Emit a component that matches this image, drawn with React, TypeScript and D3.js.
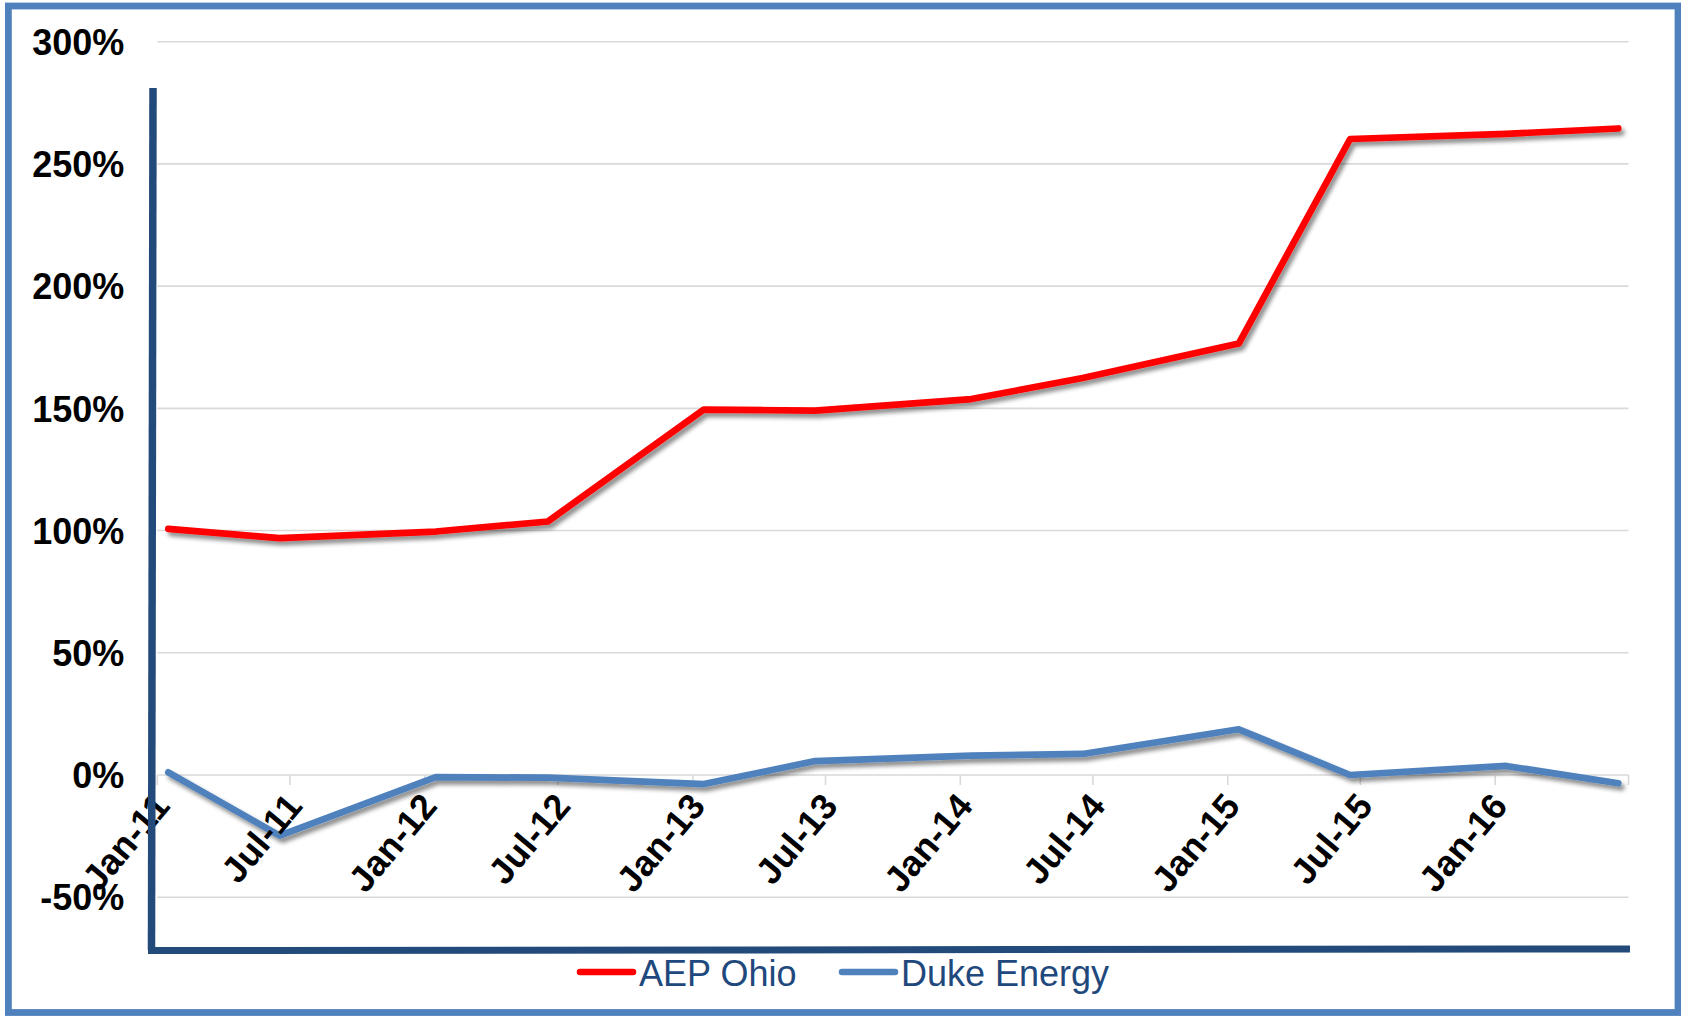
import React from "react";
import * as d3 from "d3";

// ---- data ----
const dates = [
  "2011-01-16", "2011-06-17", "2012-01-16", "2012-06-17",
  "2013-01-16", "2013-06-17", "2014-01-16", "2014-06-17",
  "2015-01-16", "2015-06-17", "2016-01-16", "2016-06-17",
];
const aepOhio = [100.7, 96.9, 99.6, 103.7, 149.5, 149.1, 153.8, 162.4, 176.5, 260.2, 262.3, 264.5];
const dukeEnergy = [1.1, -24.8, -0.9, -1.1, -3.7, 5.7, 7.9, 8.6, 18.7, 0, 3.7, -3.4];
const seriesNames = ["AEP Ohio", "Duke Energy"];
const seriesColors = ["#FF0000", "#4F81BD"];
const xTickDates = [
  "2011-01-01", "2011-07-01", "2012-01-01", "2012-07-01", "2013-01-01", "2013-07-01",
  "2014-01-01", "2014-07-01", "2015-01-01", "2015-07-01", "2016-01-01", "2016-07-01",
];
const xTickLabels = [
  "Jan-11", "Jul-11", "Jan-12", "Jul-12", "Jan-13", "Jul-13",
  "Jan-14", "Jul-14", "Jan-15", "Jul-15", "Jan-16",
];
const yTicks = [-50, 0, 50, 100, 150, 200, 250, 300];

const W = 1681;
const H = 1016;
const FONT = "'Liberation Sans', Arial, Helvetica, sans-serif";

export default function App() {
  const parse = d3.timeParse("%Y-%m-%d");
  const pts = dates.map((d) => parse(d) as Date);
  const tickD = xTickDates.map((d) => parse(d) as Date);

  const x = d3
    .scaleTime()
    .domain([tickD[0], tickD[tickD.length - 1]])
    .range([157.3, 1628.5]);
  const y = d3.scaleLinear().domain([-50, 300]).range([897.2, 41.7]);

  const line = d3
    .line<number>()
    .x((_, i) => x(pts[i]))
    .y((v) => y(v));

  const series = [aepOhio, dukeEnergy];
  const gridX0 = x.range()[0];
  const gridX1 = x.range()[1];

  return (
    <svg
      width={W}
      height={H}
      style={{ position: "absolute", left: 0, top: 0, background: "#fff" }}
      fontFamily={FONT}
    >
      <defs>
        <filter id="shadow" x="-5%" y="-20%" width="110%" height="150%">
          <feDropShadow dx="3" dy="4" stdDeviation="2.2" floodColor="#000" floodOpacity="0.45" />
        </filter>
      </defs>
      <rect x={0} y={0} width={W} height={H} fill="#fff" />

      {/* gridlines */}
      {yTicks.map((t) => (
        <line
          key={"g" + t}
          x1={gridX0}
          x2={gridX1}
          y1={y(t)}
          y2={y(t)}
          stroke="#D9D9D9"
          strokeWidth={1.6}
        />
      ))}

      {/* category axis tick marks at 0% */}
      {tickD.map((d, i) => (
        <line
          key={"t" + i}
          x1={x(d)}
          x2={x(d)}
          y1={y(0)}
          y2={y(0) + 10}
          stroke="#D9D9D9"
          strokeWidth={1.6}
        />
      ))}

      {/* y labels */}
      {yTicks.map((t) => (
        <text
          key={"yl" + t}
          x={124.3}
          y={y(t) + 13.2}
          textAnchor="end"
          fontSize={36}
          fontWeight="bold"
          fill="#000"
        >
          {t + "%"}
        </text>
      ))}

      {/* series */}
      {series.map((s, si) => (
        <path
          key={"s" + si}
          d={line(s) || ""}
          fill="none"
          stroke={seriesColors[si]}
          strokeWidth={6.7}
          strokeLinecap="round"
          strokeLinejoin="round"
          filter="url(#shadow)"
        />
      ))}

      {/* x labels */}
      {xTickLabels.map((lab, i) => {
        const ax = x(tickD[i]) + 14;
        const ay = 807;
        return (
          <text
            key={"xl" + i}
            x={ax}
            y={ay}
            textAnchor="end"
            fontSize={36}
            fontWeight="bold"
            fill="#000"
            transform={`rotate(-50 ${ax} ${ay})`}
          >
            {lab}
          </text>
        );
      })}

      {/* drawn axis lines */}
      <line x1={153} y1={88} x2={151.5} y2={950} stroke="#224A7B" strokeWidth={7.5} />
      <line x1={148} y1={950.5} x2={1630} y2={949} stroke="#224A7B" strokeWidth={7} />

      {/* legend */}
      {seriesNames.map((name, i) => {
        const lx = i === 0 ? 580 : 842;
        return (
          <g key={"lg" + i}>
            <line
              x1={lx}
              x2={lx + 53}
              y1={972}
              y2={972}
              stroke={seriesColors[i]}
              strokeWidth={6.5}
              strokeLinecap="round"
            />
            <text x={lx + 59} y={985.5} fontSize={36} fill="#1F497D">
              {name}
            </text>
          </g>
        );
      })}

      {/* frame */}
      <rect
        x={8.4}
        y={6}
        width={1669.6}
        height={1006.5}
        fill="none"
        stroke="#4F81BD"
        strokeWidth={6.8}
      />
    </svg>
  );
}
